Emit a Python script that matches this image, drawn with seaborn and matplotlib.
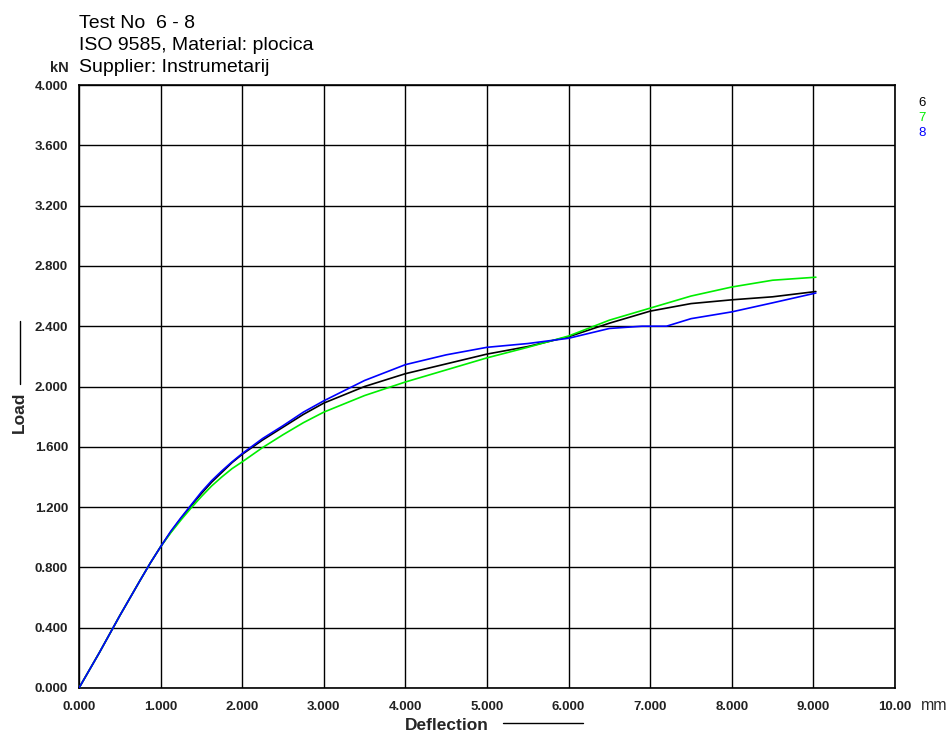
import numpy as np
import pandas as pd
import matplotlib
matplotlib.use("Agg")
import matplotlib.pyplot as plt
from matplotlib.lines import Line2D
import seaborn as sns

# ---- data ----
x_common = [0.0, 0.25, 0.5, 0.75, 0.875, 1.0, 1.125, 1.25, 1.375, 1.5, 1.625, 1.75,
            1.875, 2.0, 2.25, 2.5, 2.75, 3.0, 3.5, 4.0, 4.5, 5.0, 5.5, 6.0, 6.5,
            7.0, 7.5, 8.0, 8.5, 9.03]
load_6 = [0.0, 0.235, 0.48, 0.715, 0.83, 0.937, 1.035, 1.125, 1.21, 1.29, 1.365, 1.43,
          1.495, 1.55, 1.645, 1.73, 1.815, 1.89, 2.00, 2.085, 2.15, 2.215, 2.265, 2.33, 2.42,
          2.50, 2.55, 2.575, 2.595, 2.63]
load_7 = [0.0, 0.235, 0.48, 0.715, 0.83, 0.937, 1.03, 1.115, 1.195, 1.27, 1.34, 1.40,
          1.455, 1.50, 1.595, 1.68, 1.76, 1.83, 1.94, 2.03, 2.11, 2.19, 2.26, 2.335, 2.44,
          2.52, 2.60, 2.66, 2.705, 2.725]
x_8 = [0.0, 0.25, 0.5, 0.75, 0.875, 1.0, 1.125, 1.25, 1.375, 1.5, 1.625, 1.75,
       1.875, 2.0, 2.25, 2.5, 2.75, 3.0, 3.5, 4.0, 4.5, 5.0, 5.5, 6.0, 6.5,
       6.9, 7.2, 7.5, 8.0, 8.5, 9.03]
load_8 = [0.0, 0.235, 0.48, 0.715, 0.83, 0.937, 1.04, 1.13, 1.215, 1.30, 1.375, 1.44,
          1.50, 1.555, 1.655, 1.74, 1.83, 1.905, 2.04, 2.145, 2.21, 2.26, 2.285, 2.32, 2.385,
          2.40, 2.40, 2.45, 2.495, 2.555, 2.62]

series_names = ["6", "7", "8"]
series_colors = ["#000000", "#00ee00", "#0000ff"]
title_lines = ["Test No  6 - 8", "ISO 9585, Material: plocica", "Supplier: Instrumetarij"]
x_ticks = [0, 1, 2, 3, 4, 5, 6, 7, 8, 9, 10]
x_tick_labels = ["0.000", "1.000", "2.000", "3.000", "4.000", "5.000",
                 "6.000", "7.000", "8.000", "9.000", "10.00"]
y_ticks = [0.0, 0.4, 0.8, 1.2, 1.6, 2.0, 2.4, 2.8, 3.2, 3.6, 4.0]
y_tick_labels = ["0.000", "0.400", "0.800", "1.200", "1.600", "2.000",
                 "2.400", "2.800", "3.200", "3.600", "4.000"]

df = pd.concat([
    pd.DataFrame({"Deflection": x_common, "Load": load_6, "Test": "6"}),
    pd.DataFrame({"Deflection": x_common, "Load": load_7, "Test": "7"}),
    pd.DataFrame({"Deflection": x_8, "Load": load_8, "Test": "8"}),
], ignore_index=True)

sns.set_theme(style="white")
plt.rcParams["font.family"] = ["Liberation Sans", "DejaVu Sans"]

fig = plt.figure(figsize=(9.52, 7.36), dpi=100)
ax = fig.add_axes([79 / 952, 48 / 736, 816 / 952, 603 / 736])

sns.lineplot(data=df, x="Deflection", y="Load", hue="Test", hue_order=series_names,
             palette=dict(zip(series_names, series_colors)), sort=False,
             estimator=None, linewidth=1.2, legend=False, ax=ax, zorder=3)

ax.set_xlim(0, 10)
ax.set_ylim(0, 4)
ax.set_xticks(x_ticks)
ax.set_xticklabels(x_tick_labels)
ax.set_yticks(y_ticks)
ax.set_yticklabels(y_tick_labels)
ax.grid(True, color="#000000", linewidth=1.0)
ax.set_axisbelow(True)
for s in ax.spines.values():
    s.set_color("#000000")
    s.set_linewidth(1.2)
ax.tick_params(axis="x", length=0, labelsize=9.5, colors="#000000", pad=9)
ax.tick_params(axis="y", length=0, labelsize=9.5, colors="#000000", pad=8)
for lab in ax.get_xticklabels() + ax.get_yticklabels():
    lab.set_fontweight("bold")
    lab.set_color("#222222")
ax.set_xlabel("")
ax.set_ylabel("")

# titles
for i, t in enumerate(title_lines):
    fig.text(79 / 952, 1 - (28 + 22 * i) / 736, t, fontsize=14, va="baseline",
             ha="left", color="#000000")
fig.text(69 / 952, 1 - 72 / 736, "kN", fontsize=10.5, fontweight="bold",
         ha="right", va="baseline")
fig.text(921 / 952, 1 - 705 / 736, "mm", fontsize=11.5, ha="left", va="center")

# legend texts
for i, (n, c) in enumerate(zip(series_names, series_colors)):
    fig.text(918 / 952, 1 - (103 + 15 * i) / 736, n, color=c, fontsize=9.5,
             ha="left", va="center")

# axis labels with decorative rules
fig.text(447 / 952, 1 - 725 / 736, "Deflection", fontsize=12.5, fontweight="bold",
         ha="center", va="center")
fig.add_artist(Line2D([503 / 952, 583 / 952], [1 - 723 / 736, 1 - 723 / 736],
                      color="black", linewidth=1.0))
fig.text(19 / 952, 1 - 412 / 736, "Load", fontsize=12.5, fontweight="bold",
         rotation=90, ha="center", va="center")
fig.add_artist(Line2D([20 / 952, 20 / 952], [1 - 321 / 736, 1 - 384 / 736],
                      color="black", linewidth=1.0))

fig.savefig("out.png", dpi=100, facecolor="white")
